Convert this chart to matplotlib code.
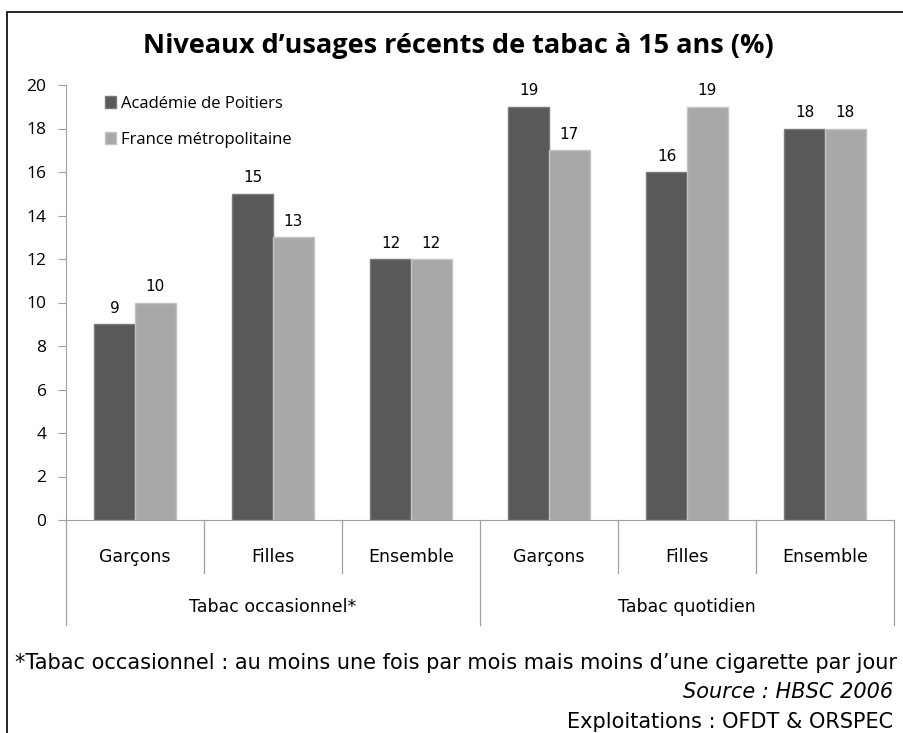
import matplotlib
matplotlib.use("Agg")
import matplotlib.pyplot as plt
from matplotlib.patches import Rectangle
import numpy as np

categories = ["Garçons", "Filles", "Ensemble", "Garçons", "Filles", "Ensemble"]
groups = ["Tabac occasionnel*", "Tabac quotidien"]
academie = [9, 15, 12, 19, 16, 18]
france = [10, 13, 12, 17, 19, 18]
yticks = [0, 2, 4, 6, 8, 10, 12, 14, 16, 18, 20]

plt.rcParams['font.family'] = ['Open Sans', 'DejaVu Sans']

W, H = 904, 733
fig = plt.figure(figsize=(W/100, H/100), dpi=100)

# outer frame
fig.patches.append(Rectangle((7/W, -0.01), (W-7)/W + 0.02, (H-12)/H + 0.01,
                             transform=fig.transFigure, fill=False,
                             edgecolor='#000000', linewidth=1.2))

x0, x1, y0, y1 = 66, 894, 520, 85
ax = fig.add_axes([x0/W, (H-y0)/H, (x1-x0)/W, (y0-y1)/H])
ax.set_xlim(0, 6)
ax.set_ylim(0, 20)
ax.set_facecolor('none')
for s in ['top', 'right']:
    ax.spines[s].set_visible(False)
for s in ['left', 'bottom']:
    ax.spines[s].set_color('#a0a0a0')
ax.set_yticks(yticks)
ax.tick_params(axis='y', length=6, color='#a0a0a0', labelsize=12.5, pad=8)
ax.set_xticks([])

x = np.arange(6) + 0.5
bw = 0.295
b1 = ax.bar(x - bw/2, academie, bw, color='#595959', edgecolor='#7a7a7a', linewidth=1.0,
            label='Académie de Poitiers')
b2 = ax.bar(x + bw/2, france, bw, color='#a8a8a8', edgecolor='#c4c4c4', linewidth=1.0,
            label='France métropolitaine')
for bars, vals in ((b1, academie), (b2, france)):
    for r, v in zip(bars, vals):
        ax.annotate(str(v), (r.get_x() + r.get_width()/2, v), xytext=(0, 6),
                    textcoords='offset points', ha='center', va='bottom',
                    fontsize=11, family=['DejaVu Sans'])

axh = y0 - y1
for i, c in enumerate(categories):
    ax.text(x[i], -37/axh, c, transform=ax.get_xaxis_transform(), ha='center',
            va='center', fontsize=12.5, family=['DejaVu Sans'])
for i in range(7):
    depth = -105/axh if i in (0, 3, 6) else -53/axh
    ax.plot([i, i], [0, depth], transform=ax.get_xaxis_transform(), color='#a0a0a0',
            linewidth=0.9, clip_on=False)
for g, gx in zip(groups, [1.5, 4.5]):
    ax.text(gx, -87/axh, g, transform=ax.get_xaxis_transform(), ha='center',
            va='center', fontsize=12.5, family=['DejaVu Sans'])

leg = ax.legend(loc='upper left', bbox_to_anchor=(32/828, 1.0 - 4/axh), frameon=False,
                fontsize=12, handlelength=0.7, handleheight=0.7, labelspacing=1.2,
                handletextpad=0.3, borderaxespad=0)

fig.text(458/W, 1 - 46/H, "Niveaux d\u2019usages récents de tabac à 15 ans (%)",
         ha='center', va='center', fontsize=19.5, fontweight='bold')
fig.text(15/W, 1 - 663/H,
         "*Tabac occasionnel : au moins une fois par mois mais moins d\u2019une cigarette par jour",
         ha='left', va='center', fontsize=15, family=['DejaVu Sans'])
fig.text(893/W, 1 - 692/H, "Source : HBSC 2006", ha='right', va='center',
         fontsize=15, style='italic', family=['DejaVu Sans'])
fig.text(893/W, 1 - 722/H, "Exploitations : OFDT & ORSPEC", ha='right', va='center',
         fontsize=15, family=['DejaVu Sans'])

fig.savefig("out.png", dpi=100)
